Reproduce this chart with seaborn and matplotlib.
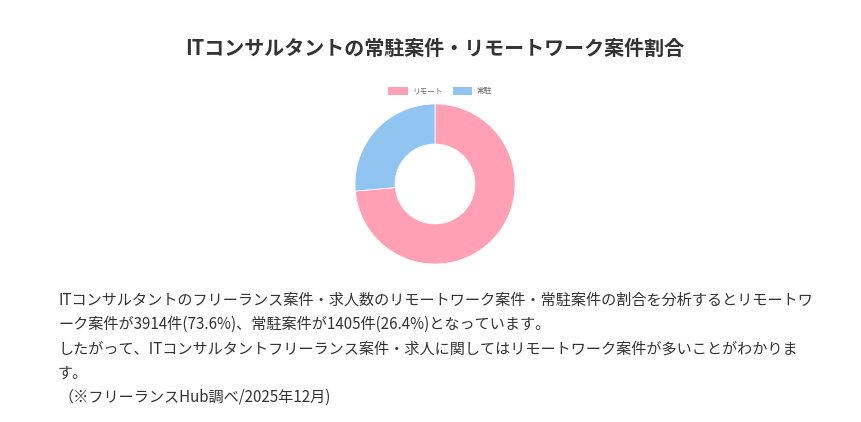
import matplotlib
matplotlib.use("Agg")
import matplotlib.pyplot as plt
import seaborn as sns
from matplotlib.patches import Patch

sns.set_theme(style="white")
plt.rcParams['font.family'] = ['Noto Sans CJK JP', 'DejaVu Sans']

title = "ITコンサルタントの常駐案件・リモートワーク案件割合"
labels = ["リモート", "常駐"]
values = [3914, 1405]
colors = ["#FFA0B4", "#90C5F2"]
body_lines = [
    "ITコンサルタントのフリーランス案件・求人数のリモートワーク案件・常駐案件の割合を分析するとリモートワ",
    "ーク案件が3914件(73.6%)、常駐案件が1405件(26.4%)となっています。",
    "したがって、ITコンサルタントフリーランス案件・求人に関してはリモートワーク案件が多いことがわかりま",
    "す。",
    "（※フリーランスHub調べ/2025年12月)",
]

W, H = 861, 422
fig = plt.figure(figsize=(W / 100, H / 100), dpi=100)
fig.patch.set_facecolor("white")

fig.text(435 / W, 1 - 48 / H, title, ha="center", va="center",
         fontsize=14.4, fontweight="bold", color="#333333")

cx, cy, r = 435, 184, 80
ax = fig.add_axes([(cx - r) / W, 1 - (cy + r) / H, 2 * r / W, 2 * r / H])
wedges, _ = ax.pie(values, colors=colors, startangle=90, counterclock=False, radius=1.0,
                   wedgeprops=dict(width=0.5, edgecolor="white", linewidth=0.5))
ax.set_xlim(-1, 1)
ax.set_ylim(-1, 1)
ax.set_aspect("equal")
ax.axis("off")

handles = [Patch(facecolor=c, edgecolor="none") for c in colors]
leg = fig.legend(handles, labels, loc="center", bbox_to_anchor=(440 / W, 1 - 91 / H),
                 ncol=2, frameon=False, fontsize=5.5, handlelength=2.6, handleheight=1.4,
                 columnspacing=1.3, handletextpad=0.5, labelcolor="#666666")

ys = [300, 324, 349, 373, 397]
for y, line in zip(ys, body_lines):
    fig.text(58 / W, 1 - y / H, line, ha="left", va="center",
             fontsize=10.9, color="#333333")

fig.savefig("out.png", dpi=100, facecolor="white")
